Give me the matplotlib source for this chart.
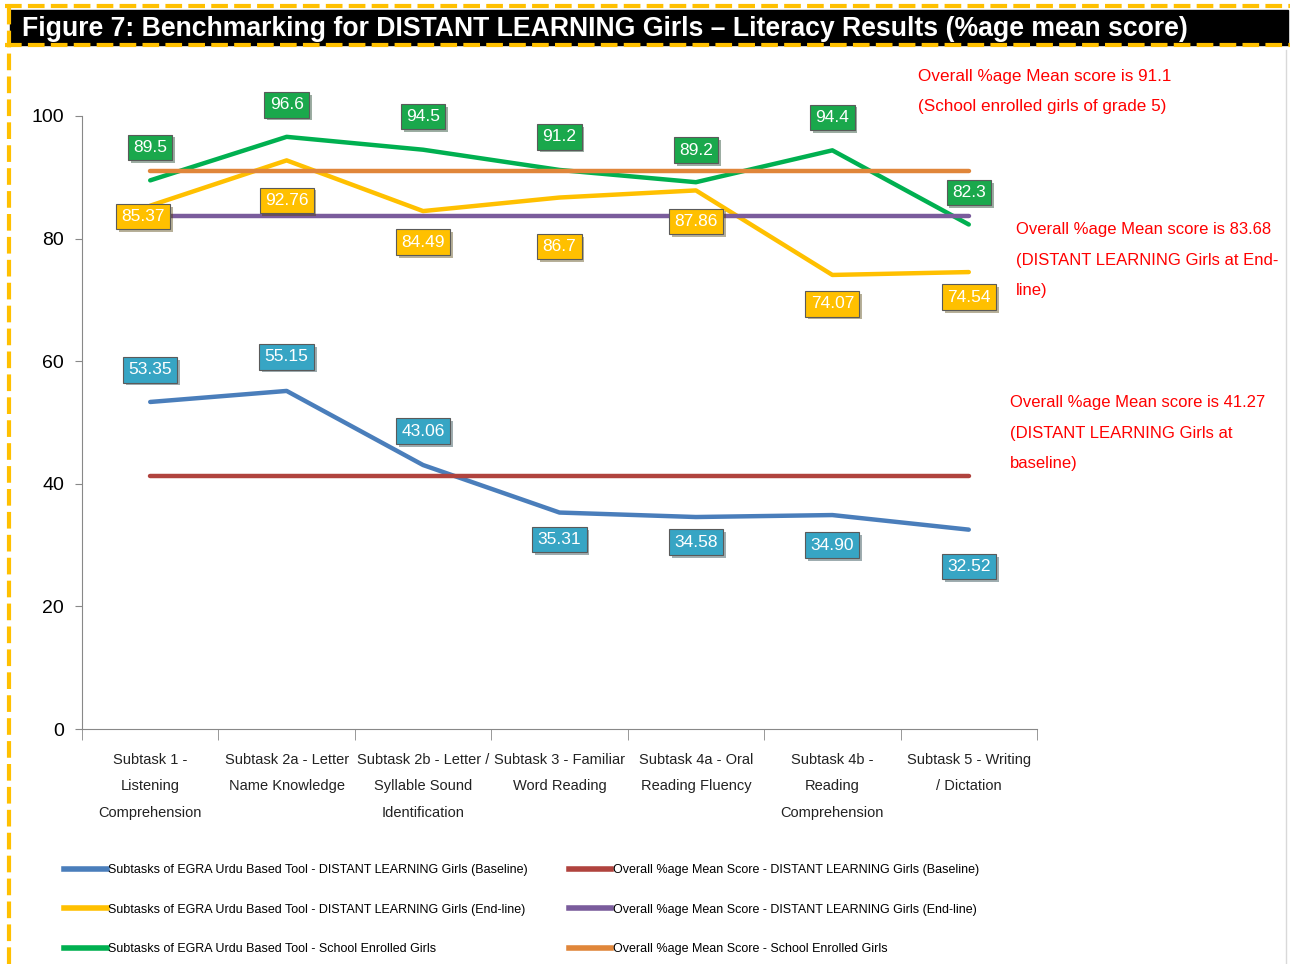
import matplotlib.pyplot as plt
import matplotlib.patheffects as pe
import numpy as np
from matplotlib.lines import Line2D

plt.rcParams['font.family'] = ['Liberation Sans', 'DejaVu Sans']

# Données
categories = ['Subtask 1 -\nListening\nComprehension',
              'Subtask 2a - Letter\nName Knowledge',
              'Subtask 2b - Letter /\nSyllable Sound\nIdentification',
              'Subtask 3 - Familiar\nWord Reading',
              'Subtask 4a - Oral\nReading Fluency',
              'Subtask 4b -\nReading\nComprehension',
              'Subtask 5 - Writing\n/ Dictation']
baseline = [53.35, 55.15, 43.06, 35.31, 34.58, 34.90, 32.52]
baseline_labels = ['53.35', '55.15', '43.06', '35.31', '34.58', '34.90', '32.52']
endline = [85.37, 92.76, 84.49, 86.7, 87.86, 74.07, 74.54]
endline_labels = ['85.37', '92.76', '84.49', '86.7', '87.86', '74.07', '74.54']
school = [89.5, 96.6, 94.5, 91.2, 89.2, 94.4, 82.3]
school_labels = ['89.5', '96.6', '94.5', '91.2', '89.2', '94.4', '82.3']
overall_baseline = 41.27
overall_endline = 83.68
overall_school = 91.1

legend_labels = ['Subtasks of EGRA Urdu Based Tool - DISTANT LEARNING Girls (Baseline)',
                 'Subtasks of EGRA Urdu Based Tool - DISTANT LEARNING Girls (End-line)',
                 'Subtasks of EGRA Urdu Based Tool - School Enrolled Girls',
                 'Overall %age Mean Score - DISTANT LEARNING Girls (Baseline)',
                 'Overall %age Mean Score - DISTANT LEARNING Girls (End-line)',
                 'Overall %age Mean Score - School Enrolled Girls']

# décalages des étiquettes (pixels)
off_baseline = [32, 34, 34, -27, -25, -30, -37]
off_endline = [-11, -40, -31, -49, -31, -29, -25]
off_school = [33, 32, 33, 33, 32, 33, 32]

c_blue = '#4a7ebb'
c_yellow = '#ffc000'
c_green = '#00b050'
c_red = '#b0433e'
c_purple = '#7a5c9c'
c_orange = '#e0863a'

W, H = 1290, 964
fig = plt.figure(figsize=(W / 100, H / 100), dpi=100)
fig.patch.set_facecolor('white')

# Bordure pointillée et bandeau du titre
fig.add_artist(plt.Rectangle((10 / W, 1 - 45 / H), 1278 / W, 35 / H,
                             transform=fig.transFigure, color='black'))
fig.add_artist(Line2D([5 / W, 1], [1 - 6 / H, 1 - 6 / H], transform=fig.transFigure,
                      color=c_yellow, lw=3, linestyle=(0, (4, 1.5))))
fig.add_artist(Line2D([5 / W, 1], [1 - 45 / H, 1 - 45 / H], transform=fig.transFigure,
                      color=c_yellow, lw=3, linestyle=(0, (4, 1.5))))
fig.add_artist(Line2D([9 / W, 9 / W], [0, 1 - 6 / H], transform=fig.transFigure,
                      color=c_yellow, lw=3, linestyle=(0, (4, 1.5))))
fig.add_artist(Line2D([1286 / W, 1286 / W], [0, 1 - 50 / H], transform=fig.transFigure,
                      color='#d9d9d9', lw=1))
fig.text(22 / W, 1 - 29 / H, 'Figure 7: Benchmarking for DISTANT LEARNING Girls \u2013 Literacy Results (%age mean score)',
         color='white', fontsize=19.2, fontweight='bold', va='center', ha='left')

ax = fig.add_axes([82 / W, 1 - 729 / H, 955 / W, 613 / H])
x = np.arange(len(categories))

ax.plot(x, baseline, color=c_blue, lw=3.2, solid_capstyle='round')
ax.plot(x, endline, color=c_yellow, lw=3.2, solid_capstyle='round')
ax.plot(x, school, color=c_green, lw=3.2, solid_capstyle='round')
ax.plot(x, np.full(len(x), overall_baseline), color=c_red, lw=3.2, solid_capstyle='round')
ax.plot(x, np.full(len(x), overall_endline), color=c_purple, lw=3.2, solid_capstyle='round')
ax.plot(x, np.full(len(x), overall_school), color=c_orange, lw=3.2, solid_capstyle='round')


def boxes(values, labels, face, offsets, dx=None):
    for i, (v, t) in enumerate(zip(values, labels)):
        sx = dx[i] if dx else 0
        a = ax.annotate(t, (i, v), xytext=(sx, offsets[i]), textcoords='offset pixels',
                        ha='center', va='center', color='white', fontsize=12.5,
                        bbox=dict(boxstyle='square,pad=0.3', fc=face, ec='#5a5a5a', lw=0.8))
        a.get_bbox_patch().set_path_effects([pe.SimplePatchShadow(offset=(2, -2), alpha=0.4), pe.Normal()])


boxes(school, school_labels, '#1aa84c', off_school)
boxes(endline, endline_labels, '#ffc000', off_endline, dx=[-7, 0, 0, 0, 0, 0, 0])
boxes(baseline, baseline_labels, '#37a5c4', off_baseline)

ax.set_xlim(-0.5, len(x) - 0.5)
ax.set_ylim(0, 100)
ax.set_yticks([0, 20, 40, 60, 80, 100])
ax.tick_params(axis='y', labelsize=14, length=5, color='#888888', pad=8)
ax.set_xticks(x)
ax.set_xticklabels(categories, fontsize=10.5, color='#222222', linespacing=2.15)
ax.tick_params(axis='x', length=0, pad=17)
ax.set_xticks(np.arange(-0.5, len(x)), minor=True)
ax.tick_params(axis='x', which='minor', length=8, color='#888888')
for s in ['top', 'right']:
    ax.spines[s].set_visible(False)
for s in ['left', 'bottom']:
    ax.spines[s].set_color('#888888')

# Annotations rouges
fig.text(918 / W, 1 - 69 / H, 'Overall %age Mean score is 91.1\n(School enrolled girls of grade 5)',
         color='#ff0000', fontsize=12.3, va='top', ha='left', linespacing=2.25)
fig.text(1016 / W, 1 - 222 / H, 'Overall %age Mean score is 83.68\n(DISTANT LEARNING Girls at End-\nline)',
         color='#ff0000', fontsize=12, va='top', ha='left', linespacing=2.3)
fig.text(1010 / W, 1 - 395 / H, 'Overall %age Mean score is 41.27\n(DISTANT LEARNING Girls at\nbaseline)',
         color='#ff0000', fontsize=12, va='top', ha='left', linespacing=2.3)

# Légende
handles = [Line2D([], [], color=c, lw=4) for c in [c_blue, c_yellow, c_green, c_red, c_purple, c_orange]]
fig.legend(handles, legend_labels, ncol=2, loc='upper left', bbox_to_anchor=(53 / W, 1 - 853 / H),
           frameon=False, fontsize=9, handlelength=3.4, handletextpad=0.1,
           columnspacing=3.3, labelspacing=2.2)

fig.savefig('out.png', dpi=100)
